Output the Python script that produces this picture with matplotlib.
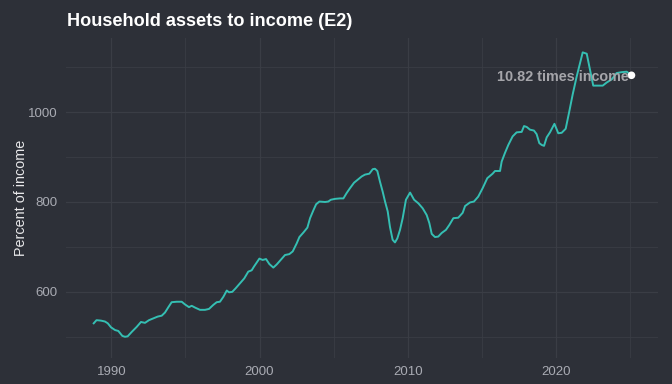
import matplotlib
matplotlib.use("Agg")
import matplotlib.pyplot as plt
from matplotlib.ticker import MultipleLocator

years = [1988.81, 1989.0, 1989.3, 1989.57, 1989.76, 1989.98, 1990.25, 1990.47, 1990.74, 1990.92,
         1991.1, 1991.38, 1991.71, 1992.0, 1992.27, 1992.54, 1992.83, 1993.13, 1993.4, 1993.62,
         1993.85, 1994.07, 1994.41, 1994.75, 1994.97, 1995.24, 1995.42, 1995.65, 1995.98, 1996.32,
         1996.59, 1996.88, 1997.11, 1997.33, 1997.56, 1997.79, 1997.94, 1998.16, 1998.39, 1998.68,
         1998.97, 1999.24, 1999.47, 1999.62, 1999.99, 2000.21, 2000.44, 2000.66, 2000.93, 2001.16,
         2001.43, 2001.72, 2002.01, 2002.24, 2002.51, 2002.69, 2002.96, 2003.23, 2003.41, 2003.64,
         2003.82, 2004.04, 2004.42, 2004.64, 2004.81, 2005.1, 2005.43, 2005.66, 2005.88, 2006.11,
         2006.38, 2006.6, 2006.9, 2007.12, 2007.41, 2007.64, 2007.79, 2007.95, 2008.13, 2008.31,
         2008.47, 2008.65, 2008.8, 2008.98, 2009.14, 2009.3, 2009.48, 2009.66, 2009.88, 2010.16,
         2010.43, 2010.72, 2011.01, 2011.28, 2011.46, 2011.62, 2011.84, 2012.06, 2012.29, 2012.58,
         2012.81, 2013.08, 2013.41, 2013.71, 2013.87, 2014.2, 2014.47, 2014.76, 2015.06, 2015.37,
         2015.73, 2015.89, 2016.23, 2016.34, 2016.56, 2016.79, 2017.08, 2017.35, 2017.69, 2017.85,
         2018.03, 2018.25, 2018.52, 2018.7, 2018.88, 2019.04, 2019.2, 2019.38, 2019.6, 2019.9,
         2020.16, 2020.39, 2020.66, 2020.9, 2021.13, 2021.4, 2021.63, 2021.81, 2022.08, 2022.3,
         2022.52, 2022.86, 2023.16, 2023.43, 2023.77, 2024.1, 2024.44, 2024.78, 2025.1]
values = [530, 537, 536, 534, 530, 521, 515, 513, 502, 500,
          501, 511, 522, 533, 531, 537, 541, 545, 547, 554,
          566, 577, 578, 578, 572, 566, 569, 565, 560, 560,
          562, 571, 577, 578, 589, 603, 599, 600, 608, 619,
          630, 645, 648, 656, 674, 671, 673, 662, 654, 661,
          671, 682, 684, 690, 708, 722, 732, 743, 764, 782,
          795, 801, 800, 801, 805, 807, 808, 808, 820, 831,
          843, 849, 857, 861, 863, 873, 874, 869, 845, 823,
          801, 779, 745, 716, 710, 719, 738, 764, 805, 821,
          805, 797, 786, 771, 753, 729, 722, 723, 731, 738,
          749, 764, 765, 776, 791, 799, 801, 812, 831, 853,
          863, 869, 869, 890, 909, 927, 946, 955, 956, 969,
          967, 961, 959, 951, 931, 927, 925, 944, 955, 974,
          953, 954, 963, 1001, 1039, 1079, 1109, 1133, 1130, 1094,
          1059, 1059, 1059, 1066, 1073, 1087, 1089, 1090, 1082]

label_text = "10.82 times income"

BG = "#2d3038"
GRID = "#3a3d45"
LINE = "#35bfb3"
TICK = "#a9abb3"

fig = plt.figure(figsize=(6.72, 3.84), dpi=100, facecolor=BG)
ax = fig.add_axes([66/672, 1-358/384, (658-66)/672, (358-38)/384])
ax.set_facecolor(BG)

ax.plot(years, values, color=LINE, lw=1.4, solid_joinstyle="round", zorder=3)
ax.scatter([years[-1]], [values[-1]], s=30, color="white", zorder=4, edgecolors="none")
ax.text(years[-1] - 0.2, values[-1] - 3, label_text, ha="right", va="center",
        color="#a5a5aa", fontsize=10.4, fontweight="bold", family="Liberation Sans", zorder=5)

ax.set_xlim(1986.94, 2026.89)
ax.set_ylim(452.8, 1165)
ax.xaxis.set_major_locator(MultipleLocator(10))
ax.xaxis.set_minor_locator(MultipleLocator(5))
ax.yaxis.set_major_locator(MultipleLocator(200))
ax.yaxis.set_minor_locator(MultipleLocator(100))
ax.grid(True, which="major", color=GRID, lw=0.9)
ax.grid(True, which="minor", color=GRID, lw=0.6)
ax.set_axisbelow(True)
for s in ax.spines.values():
    s.set_visible(False)
ax.tick_params(which="both", length=0, colors=TICK, labelsize=9.5, pad=6)
for lab in ax.get_xticklabels() + ax.get_yticklabels():
    lab.set_family("Liberation Sans")
ax.set_ylabel("Percent of income", color="#e8e8ea", fontsize=10.4, family="Liberation Sans", labelpad=0)

fig.text(67/672, 1-22/384, "Household assets to income (E2)", color="white", fontsize=13.1,
         fontweight="bold", family="Liberation Sans", ha="left", va="center")

fig.savefig("out.png", dpi=100, facecolor=BG)
